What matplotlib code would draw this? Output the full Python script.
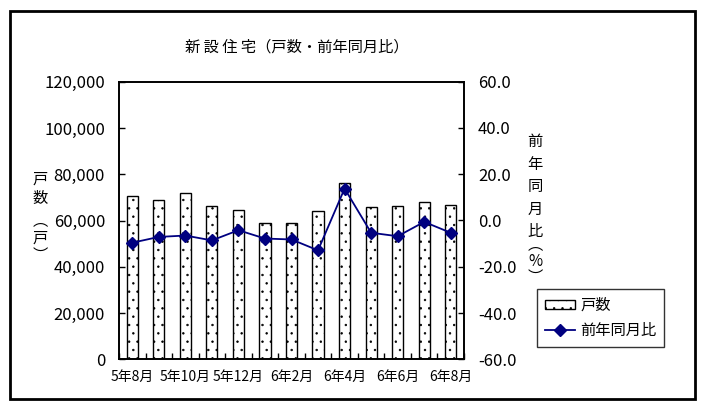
import matplotlib
matplotlib.use("Agg")
import matplotlib.pyplot as plt
from matplotlib.patches import Rectangle, Patch
from matplotlib.lines import Line2D
import numpy as np

plt.rcParams['font.family'] = ['Liberation Sans Narrow', 'Noto Sans CJK JP', 'DejaVu Sans']
plt.rcParams['hatch.color'] = '#6e6e6e'
plt.rcParams['hatch.linewidth'] = 0.5

months = ['5年8月', '5年9月', '5年10月', '5年11月', '5年12月', '6年1月', '6年2月',
          '6年3月', '6年4月', '6年5月', '6年6月', '6年7月', '6年8月']
units = [70500, 68900, 71800, 66200, 64500, 59000, 59000, 64200, 76400, 65900, 66200, 68200, 66900]
yoy = [-9.6, -7.1, -6.5, -8.6, -4.2, -7.8, -8.2, -12.9, 13.8, -5.3, -6.8, -0.6, -5.3]
left_ticks = [0, 20000, 40000, 60000, 80000, 100000, 120000]
right_ticks = [-60, -40, -20, 0, 20, 40, 60]

CJK = ['Noto Sans CJK JP', 'DejaVu Sans']

W, H = 707, 408
fig = plt.figure(figsize=(W / 100, H / 100), dpi=100)
ax = fig.add_axes([119 / W, 1 - 359.3 / H, 345 / W, 277.6 / H])
ax2 = ax.twinx()

x = np.arange(len(months))
ax.bar(x, units, width=0.42, facecolor='white', edgecolor='black', linewidth=1.0, hatch='..', zorder=2)
ax2.plot(x, yoy, color='#000080', linewidth=1.3, marker='D', markersize=6.5,
         markerfacecolor='#000080', markeredgecolor='#000080', zorder=3)

ax.set_xlim(-0.5, len(months) - 0.5)
ax.set_ylim(0, 120000)
ax2.set_ylim(-60, 60)

ax.set_yticks(left_ticks)
ax.set_yticklabels([f"{v:,}" for v in left_ticks], fontsize=12)
ax2.set_yticks(right_ticks)
ax2.set_yticklabels([f"{v:.1f}" for v in right_ticks], fontsize=12)

ax.set_xticks(x[::2])
ax.set_xticklabels(months[::2], fontsize=10)
ax.set_xticks(np.arange(len(months) + 1) - 0.5, minor=True)
ax.tick_params(axis='x', which='major', length=0, pad=8)
ax.tick_params(axis='x', which='minor', length=4, direction='in', width=1)
ax.tick_params(axis='y', direction='in', length=4, width=1, pad=10)
ax2.tick_params(axis='y', direction='in', length=4, width=1, pad=10)

for a in (ax, ax2):
    for s in a.spines.values():
        s.set_linewidth(1.2)

# title and axis labels
fig.text(297 / W, 1 - 47 / H, '新 設 住 宅（戸数・前年同月比）', ha='center', va='center',
         fontsize=11, family=CJK)

fig.text(40 / W, 1 - 189 / H, '戸\n数', ha='center', va='center', fontsize=11,
         family=CJK, linespacing=1.2)
fig.text(40 / W, 1 - 238 / H, '︵\n戸\n︶', ha='center', va='center', fontsize=11,
         family=CJK, linespacing=1.05)

fig.text(535 / W, 1 - 186.5 / H, '前\n年\n同\n月\n比', ha='center', va='center', fontsize=11,
         family=CJK, linespacing=1.42)
fig.text(535 / W, 1 - 261 / H, '︵\n%\n︶', ha='center', va='center', fontsize=11,
         family=CJK, linespacing=0.95)

handles = [Patch(facecolor='white', edgecolor='black', hatch='..', linewidth=1.0),
           Line2D([], [], color='#000080', marker='D', markersize=6, linewidth=1.3)]
leg = fig.legend(handles, ['戸数', '前年同月比'], loc='upper left',
                 bbox_to_anchor=(537 / W, 1 - 289 / H), borderaxespad=0,
                 frameon=True, fancybox=False, edgecolor='black',
                 handlelength=2.0, handleheight=0.55, borderpad=0.5,
                 labelspacing=0.55, handletextpad=0.35,
                 prop={'family': CJK, 'size': 11})
leg.get_frame().set_linewidth(1.0)

fig.add_artist(Rectangle((10 / W, 1 - 399 / H), 685 / W, 388 / H, transform=fig.transFigure,
                         fill=False, edgecolor='black', linewidth=2.0))

fig.savefig('out.png', dpi=100)
